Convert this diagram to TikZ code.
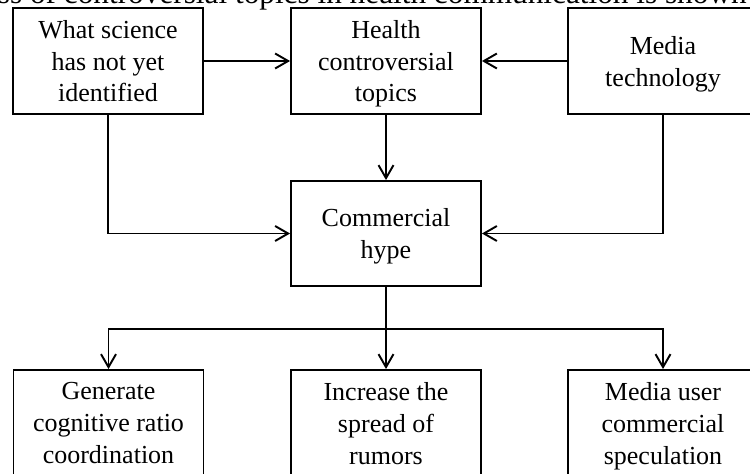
\documentclass[tikz,border=0pt]{standalone}
\usepackage{fontspec}
\setmainfont{Liberation Serif}
\usetikzlibrary{arrows.meta}

\begin{document}
\begin{tikzpicture}[x=0.02cm,y=-0.02cm,
  box/.style={draw,line width=1.1pt,minimum width=3.8cm,minimum height=2.12cm,
    inner sep=0pt,align=center,font=\fontsize{14.8}{18.2}\selectfont,text depth=0pt},
  arr/.style={-{Straight Barb[length=0.26cm,width=0.3cm]},line width=1.1pt}]
  \clip (0,0) rectangle (750,473);
  \node[anchor=base east,inner sep=0pt,font=\fontsize{17.8}{20}\selectfont] (caption) at (747,3.5)
    {ss of controversial topics in health communication is shown};

  % top row
  \node[box] (what) at (108,61) {What science\\has not yet\\identified};
  \node[box] (health) at (386,61) {Health\\controversial\\topics};
  \node[box] (media) at (663,61) {Media\\technology};
  % middle
  \node[box,minimum height=2.1cm] (hype) at (386,233.5) {Commercial\\hype};
  % bottom row
  \node[box] (gen) at (108.5,423) {Generate\\cognitive ratio\\coordination};
  \node[box] (rumor) at (386,423) {Increase the\\spread of\\rumors};
  \node[box] (spec) at (663,423) {Media user\\commercial\\speculation};

  \draw[arr] (what) -- (health);
  \draw[arr] (media) -- (health);
  \draw[arr] (health) -- (hype);
  \draw[arr] (what.south) |- (hype.west);
  \draw[arr] (media.south) |- (hype.east);

  \coordinate (bus) at (386,329);
  \draw[arr] (hype) -- (rumor);
  \draw[arr] (bus) -| (gen.north);
  \draw[arr] (bus) -| (spec.north);
\end{tikzpicture}
\end{document}
